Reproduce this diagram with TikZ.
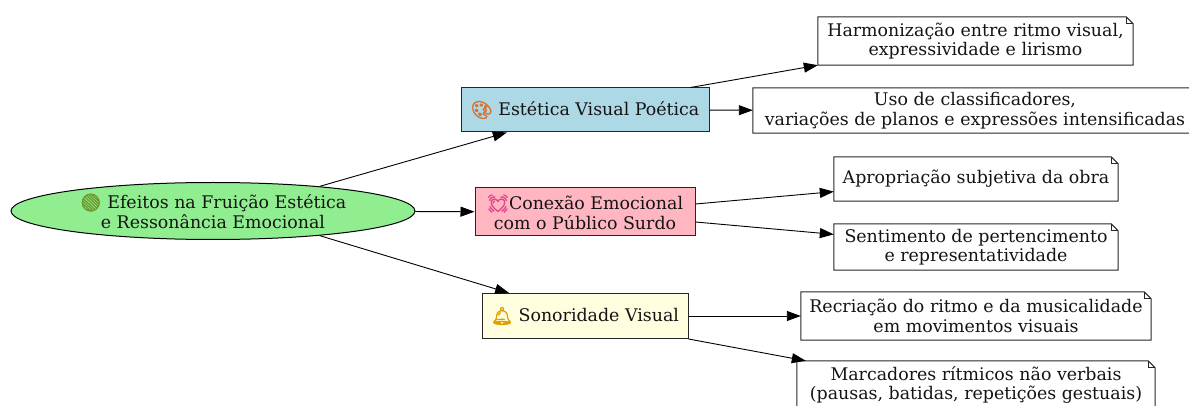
\documentclass[tikz,border=0pt]{standalone}
\usepackage{fontspec}
\setmainfont{DejaVu Serif}
\newfontfamily\emo[FakeBold=3]{Noto Emoji}
\usetikzlibrary{shapes.geometric,arrows.meta}
\definecolor{lgreen}{HTML}{90EE90}
\definecolor{lblue}{HTML}{ADD8E6}
\definecolor{lpink}{HTML}{FFB6C1}
\definecolor{lyellow}{HTML}{FFFFE0}
\definecolor{txt}{HTML}{141414}
\definecolor{emgreen}{HTML}{6E9A2E}
\definecolor{emorange}{HTML}{D9712E}
\definecolor{empink}{HTML}{E0468A}
\definecolor{emgold}{HTML}{E0A000}
\begin{document}
\begin{tikzpicture}[x=1pt,y=-1pt,
  every node/.style={font=\fontsize{17.4}{19.5}\selectfont, text=txt, align=center, inner sep=0pt},
  rootnode/.style={ellipse, draw=black, line width=1pt, fill=lgreen},
  midbox/.style={rectangle, draw=black!85, line width=1pt},
  leafbox/.style={rectangle, draw=none, fill=white},
  conn/.style={draw=black, line width=0.9pt, -{Triangle[length=14pt,width=10pt]}},
  noteline/.style={draw=black!85, line width=1pt, line join=miter}
]
\useasboundingbox (0,0) rectangle (1189,406);

\node[rootnode, minimum width=404, minimum height=57] (root) at (213,211)
  {{\emo\textcolor{emgreen}{🟢}} Efeitos na Fruição Estética\\e Ressonância Emocional};

\node[midbox, fill=lblue, minimum width=248, minimum height=44] (est) at (585,110)
  {{\emo\textcolor{emorange}{🎨}} Estética Visual Poética};
\node[midbox, fill=lpink, minimum width=220, minimum height=48] (con) at (585,212)
  {{\emo\textcolor{empink}{💓}}Conexão Emocional\\com o Público Surdo};
\node[midbox, fill=lyellow, minimum width=206, minimum height=45] (son) at (585,316)
  {{\emo\textcolor{emgold}{🔔}} Sonoridade Visual};

\node[leafbox, minimum width=315, minimum height=48] (h) at (975.5,41)
  {Harmonização entre ritmo visual,\\expressividade e lirismo};
\node[leafbox, minimum width=444, minimum height=45] (u) at (975,110.5)
  {Uso de classificadores,\\variações de planos e expressões intensificadas};
\node[leafbox, minimum width=284, minimum height=44] (a) at (976,179)
  {Apropriação subjetiva da obra};
\node[leafbox, minimum width=284, minimum height=46] (s) at (976,247)
  {Sentimento de pertencimento\\e representatividade};
\node[leafbox, minimum width=350, minimum height=48] (r) at (976,316)
  {Recriação do ritmo e da musicalidade\\em movimentos visuais};
\node[leafbox, minimum width=358, minimum height=48] (m) at (976,385)
  {Marcadores rítmicos não verbais\\(pausas, batidas, repetições gestuais)};

\foreach \n in {h,u,a,s,r,m} {
  \draw[noteline] (\n.south west) -- (\n.north west) -- ([xshift=-7pt]\n.north east)
    -- ([yshift=-7pt]\n.north east) -- (\n.south east) -- cycle;
  \draw[draw=black!85, line width=0.7pt] ([xshift=-7pt]\n.north east) -- ([xshift=-7pt,yshift=-7pt]\n.north east)
    -- ([yshift=-7pt]\n.north east);
}

\draw[conn] (root.13) -- (est);
\draw[conn] (root) -- (con);
\draw[conn] (root.-13) -- (son);
\draw[conn] ([xshift=-19pt]est.north east) -- (h.south west);
\draw[conn] (est) -- (u);
\draw[conn] ([yshift=8pt]con.east) -- (a);
\draw[conn] ([yshift=-10pt]con.east) -- (s);
\draw[conn] (son) -- (r);
\draw[conn] (son.south east) -- ([xshift=9pt]m.north west);
\end{tikzpicture}
\end{document}
